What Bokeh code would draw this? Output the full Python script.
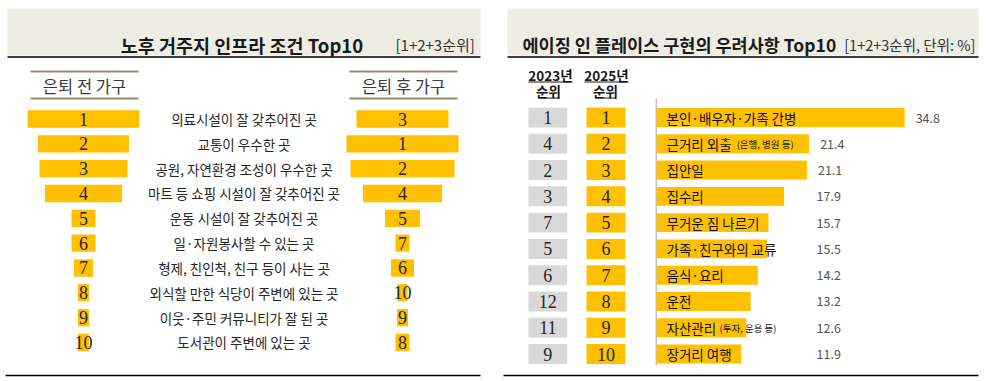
from bokeh.plotting import figure
from bokeh.models import Range1d, ColumnDataSource
from bokeh.core.properties import value
from bokeh.embed import file_html
from bokeh.resources import INLINE

# ---------------- data ----------------
left_title = "노후 거주지 인프라 조건 Top10"
left_note = "[1+2+3순위]"
before_header = "은퇴 전 가구"
after_header = "은퇴 후 가구"
infra_labels = ["의료시설이 잘 갖추어진 곳", "교통이 우수한 곳", "공원, 자연환경 조성이 우수한 곳",
                "마트 등 쇼핑 시설이 잘 갖추어진 곳", "운동 시설이 잘 갖추어진 곳",
                "일·자원봉사할 수 있는 곳", "형제, 친인척, 친구 등이 사는 곳",
                "외식할 만한 식당이 주변에 있는 곳", "이웃·주민 커뮤니티가 잘 된 곳",
                "도서관이 주변에 있는 곳"]
before_rank = [1, 2, 3, 4, 5, 6, 7, 8, 9, 10]
before_score = [56, 45.5, 44, 38.5, 12, 12, 9.5, 5.5, 5.5, 5.5]
after_rank = [3, 1, 2, 4, 5, 7, 6, 10, 9, 8]
after_score = [46, 56, 52, 39.5, 17.5, 7, 11.5, 5, 5.5, 7]

right_title = "에이징 인 플레이스 구현의 우려사항 Top10"
right_note = "[1+2+3순위, 단위: %]"
concern_labels = ["본인·배우자·가족 간병", "근거리 외출", "집안일", "집수리", "무거운 짐 나르기",
                  "가족·친구와의 교류", "음식·요리", "운전", "자산관리", "장거리 여행"]
concern_notes = ["", "(은행, 병원 등)", "", "", "", "", "", "", "(투자, 운용 등)", ""]
concern_pct = [34.8, 21.4, 21.1, 17.9, 15.7, 15.5, 14.2, 13.2, 12.6, 11.9]
rank_2023 = [1, 4, 2, 3, 7, 5, 6, 12, 11, 9]
rank_2025 = [1, 2, 3, 4, 5, 6, 7, 8, 9, 10]

# ---------------- styles ----------------
W, H = 989, 381
GOLD = "#FFC000"
GREY = "#D9D9D9"
BAND = "#EEEDE4"
RULE = "#948A6A"
KR = value("Noto Sans CJK KR")
SERIF = value("Liberation Serif")
NUM_FS = "18px"

p = figure(width=W, height=H, x_range=Range1d(0, W), y_range=Range1d(H, 0),
           output_backend="svg", toolbar_location=None, min_border=0)
p.axis.visible = False
p.grid.visible = False
p.outline_line_color = None

# row scales
L_Y0, L_DY = 118.5, 24.83
R_Y0, R_DY = 117.0, 26.28
p.extra_y_ranges = {
    "ly": Range1d(start=1 + (H - L_Y0) / L_DY, end=1 - L_Y0 / L_DY),
    "ry": Range1d(start=1 + (H - R_Y0) / R_DY, end=1 - R_Y0 / R_DY),
}
S_L = 2.0      # px per score unit (left)
S_R = 7.13     # px per percent (right)
p.extra_x_ranges = {
    "lbx": Range1d(start=-83 / S_L, end=(W - 83) / S_L),
    "lax": Range1d(start=-402 / S_L, end=(W - 402) / S_L),
    "rx": Range1d(start=-656 / S_R, end=(W - 656) / S_R),
}

# ---------------- frame decorations ----------------
p.quad(left=[7, 507], right=[480, 978], top=[8, 8], bottom=[55, 55],
       fill_color=BAND, line_color=None)
p.segment(x0=[7, 507], x1=[480, 978], y0=[56.5, 56.5], y1=[56.5, 56.5],
          line_color="black", line_width=1.5)
p.segment(x0=[5, 503], x1=[480, 978], y0=[375, 375], y1=[375, 375],
          line_color="black", line_width=1.5)

p.text(x=[241.5], y=[44], text=[left_title], text_font=KR, text_font_size="18.5px",
       text_font_style="bold", text_align="center", text_baseline="alphabetic", text_color="#1a1a1a")
p.text(x=[395], y=[44], text=[left_note], text_font=KR, text_font_size="15px",
       text_align="left", text_baseline="alphabetic", text_color="#333333")
p.text(x=[522], y=[44], text=[right_title], text_font=KR, text_font_size="17.5px",
       text_font_style="bold", text_align="left", text_baseline="alphabetic", text_color="#1a1a1a")
p.text(x=[975], y=[44], text=[right_note], text_font=KR, text_font_size="14.5px",
       text_align="right", text_baseline="alphabetic", text_color="#333333")

# ---------------- left panel ----------------
p.segment(x0=[30, 30, 349, 349], x1=[138, 138, 457, 457], y0=[71, 98, 71, 98], y1=[71, 98, 71, 98],
          line_color=RULE, line_width=2)
p.text(x=[84, 403], y=[85, 85], text=[before_header, after_header], text_font=KR,
       text_font_size="16.5px", text_align="center", text_baseline="middle", text_color="#3a3a3a")

lsrc = ColumnDataSource(dict(
    row=list(range(1, len(infra_labels) + 1)),
    label=infra_labels,
    b_rank=[str(r) for r in before_rank],
    b_l=[-v / 2 for v in before_score], b_r=[v / 2 for v in before_score],
    a_rank=[str(r) for r in after_rank],
    a_l=[-v / 2 for v in after_score], a_r=[v / 2 for v in after_score],
    zero=[0] * len(infra_labels),
    mid=[243.5] * len(infra_labels),
))
p.hbar(y="row", left="b_l", right="b_r", height=0.7, source=lsrc, fill_color=GOLD,
       line_color=None, x_range_name="lbx", y_range_name="ly")
p.hbar(y="row", left="a_l", right="a_r", height=0.7, source=lsrc, fill_color=GOLD,
       line_color=None, x_range_name="lax", y_range_name="ly")
p.text(x="zero", y="row", text="b_rank", source=lsrc, text_font=SERIF, text_font_size=NUM_FS,
       text_align="center", text_baseline="middle", text_color="#262626",
       x_range_name="lbx", y_range_name="ly")
p.text(x="zero", y="row", text="a_rank", source=lsrc, text_font=SERIF, text_font_size=NUM_FS,
       text_align="center", text_baseline="middle", text_color="#262626",
       x_range_name="lax", y_range_name="ly")
p.text(x="mid", y="row", text="label", source=lsrc, text_font=KR, text_font_size="13.5px",
       text_align="center", text_baseline="middle", text_color="#262626", y_range_name="ly")

# ---------------- right panel ----------------
# column headers (underlined)
p.text(x=[550, 606], y=[74, 74], text=["2023년", "2025년"], text_font=KR, text_font_size="13.5px",
       text_font_style="bold", text_align="center", text_baseline="middle", text_color="#1a1a1a")
p.text(x=[548, 605], y=[90, 90], text=["순위", "순위"], text_font=KR, text_font_size="13.5px",
       text_font_style="bold", text_align="center", text_baseline="middle", text_color="#1a1a1a")
p.segment(x0=[528, 584, 538, 595], x1=[572, 628, 558, 615], y0=[81.5, 81.5, 97.5, 97.5],
          y1=[81.5, 81.5, 97.5, 97.5], line_color="#1a1a1a", line_width=1)

n = len(concern_labels)


def est_width(s, fs=13.5):
    w = 0.0
    for ch in s:
        if ch == " ":
            w += fs * 0.27
        elif ch == "·":
            w += fs * 0.3
        elif ord(ch) > 0x3000:
            w += fs
        else:
            w += fs * 0.55
    return w


rsrc = ColumnDataSource(dict(
    row=rank_2025,
    r23=[str(r) for r in rank_2023],
    r25=[str(r) for r in rank_2025],
    pct=concern_pct,
    zero=[0] * n,
    label=concern_labels,
    note=concern_notes,
    note_off=[9 + est_width(s) for s in concern_labels],
    val_x=[max(v, 20.9) + 1.55 for v in concern_pct],
    val_txt=[f"{v:.1f}" for v in concern_pct],
    gx=[547.3] * n,
    yx=[605.5] * n,
))
p.rect(x="gx", y="row", width=38.7, height=0.76, source=rsrc, fill_color=GREY, line_color=None,
       y_range_name="ry")
p.rect(x="yx", y="row", width=39, height=0.76, source=rsrc, fill_color=GOLD, line_color=None,
       y_range_name="ry")
p.text(x="gx", y="row", text="r23", source=rsrc, text_font=SERIF, text_font_size=NUM_FS,
       text_align="center", text_baseline="middle", text_color="#262626", y_range_name="ry")
p.text(x="yx", y="row", text="r25", source=rsrc, text_font=SERIF, text_font_size=NUM_FS,
       text_align="center", text_baseline="middle", text_color="#262626", y_range_name="ry")

p.segment(x0=[655.7], x1=[655.7], y0=[98], y1=[365], line_color="#A6A6A6", line_width=1)

p.hbar(y="row", left="zero", right="pct", height=0.72, source=rsrc, fill_color=GOLD,
       line_color=None, x_range_name="rx", y_range_name="ry")
p.text(x="zero", y="row", text="label", source=rsrc, x_offset=10, text_font=KR,
       text_font_size="13.5px", text_align="left", text_baseline="middle", text_color="#111111",
       x_range_name="rx", y_range_name="ry")
p.text(x="zero", y="row", text="note", source=rsrc, x_offset="note_off", text_font=KR,
       text_font_size="9.5px", text_align="left", text_baseline="middle", text_color="#111111",
       x_range_name="rx", y_range_name="ry")
p.text(x="val_x", y="row", text="val_txt", source=rsrc, text_font=KR, text_font_size="12.5px",
       text_align="left", text_baseline="middle", text_color="#555555",
       x_range_name="rx", y_range_name="ry")

open("out.html", "w").write(file_html(p, INLINE))
